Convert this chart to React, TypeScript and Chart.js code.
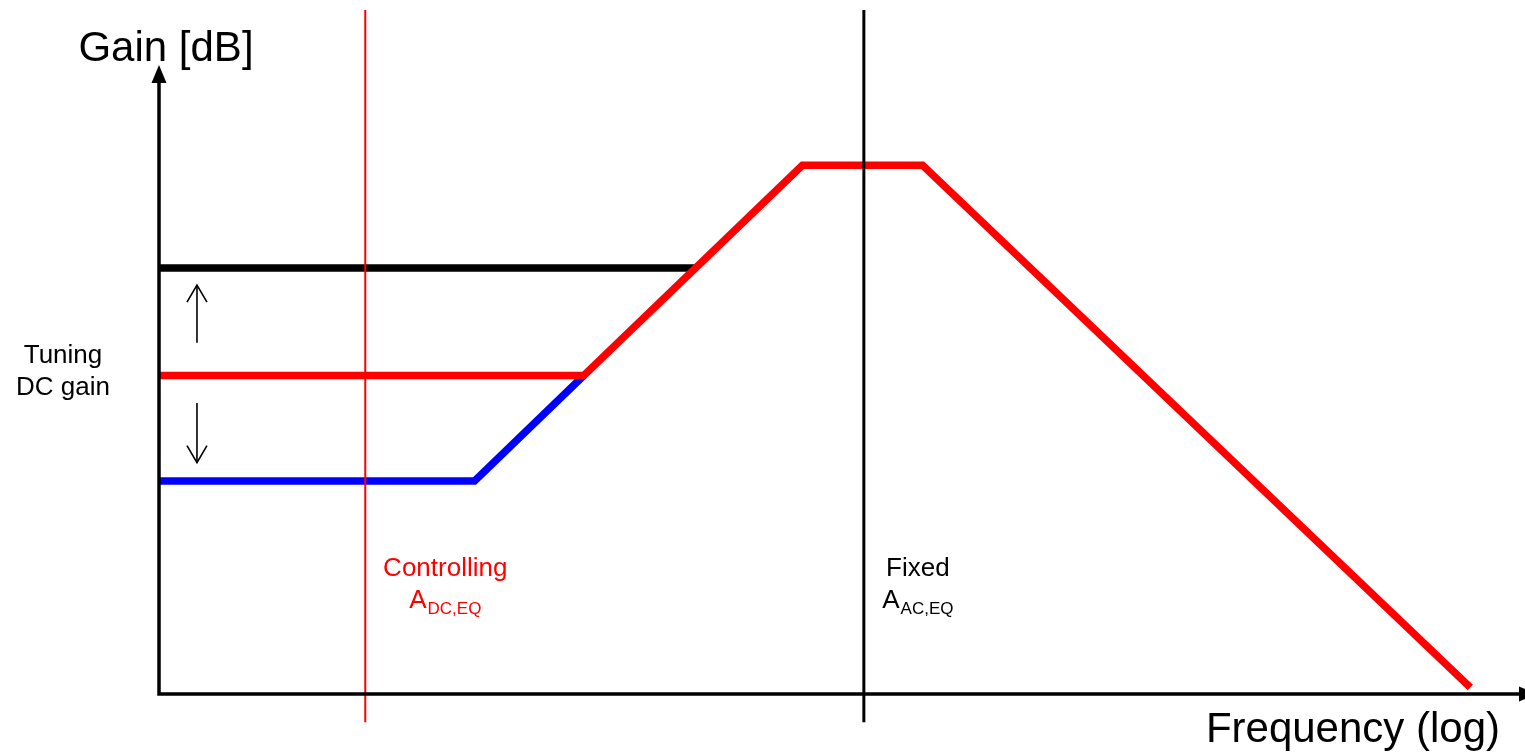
import React, { useEffect, useRef } from "react";
import { Chart, registerables } from "chart.js";

Chart.register(...registerables);

// Frequency in decades (log axis, arbitrary origin), gain in dB
const freqRange = [0, 10];
const gainRange = [0, 96];

const blueFreq = [0, 2.31, 3.11];
const blueGain = [32.5, 32.5, 48.6];

const redFreq = [0, 3.11, 4.71, 5.59, 9.6];
const redGain = [48.6, 48.6, 80.7, 80.7, 1.0];

const blackFreq = [0, 3.93];
const blackGain = [65, 65];

const controlFreq = 1.51;
const fixedFreq = 5.16;
const markerGainSpan = [-4.3, 104.4];

const tuneFreq = 0.278;
const tuneUpGain = [53.6, 62.4];
const tuneDownGain = [44.4, 35.3];

const yTitle = "Gain [dB]";
const xTitle = "Frequency (log)";
const tuneLabel = ["Tuning", "DC gain"];
const controlLabel = ["Controlling", "A", "DC,EQ"];
const fixedLabel = ["Fixed", "A", "AC,EQ"];

const FONT = '"Liberation Sans", Arial, Helvetica, sans-serif';

const pts = (xs: number[], ys: number[]) => xs.map((x, i) => ({ x, y: ys[i] }));

function drawSubLabel(ctx: CanvasRenderingContext2D, lines: string[], cx: number, base1: number, color: string) {
  ctx.fillStyle = color;
  ctx.textBaseline = "alphabetic";
  ctx.textAlign = "center";
  ctx.font = `26px ${FONT}`;
  ctx.fillText(lines[0], cx, base1);
  ctx.textAlign = "left";
  const mainW = ctx.measureText(lines[1]).width;
  ctx.font = `17px ${FONT}`;
  const subW = ctx.measureText(lines[2]).width;
  const total = mainW + 1 + subW;
  const left = cx - total / 2;
  ctx.font = `26px ${FONT}`;
  ctx.fillText(lines[1], left, base1 + 32);
  ctx.font = `17px ${FONT}`;
  ctx.fillText(lines[2], left + mainW + 1, base1 + 38);
}

const decor = {
  id: "decor",
  afterDatasetsDraw(chart: any) {
    const ctx: CanvasRenderingContext2D = chart.ctx;
    const xs = chart.scales.x;
    const ys = chart.scales.y;
    const ox = xs.getPixelForValue(freqRange[0]);
    const oy = ys.getPixelForValue(gainRange[0]);
    const top = chart.chartArea.top;
    const right = chart.chartArea.right;
    ctx.save();
    // axes
    ctx.strokeStyle = "#000";
    ctx.lineWidth = 3.5;
    ctx.lineJoin = "miter";
    ctx.lineCap = "butt";
    ctx.beginPath();
    ctx.moveTo(ox, top + 16);
    ctx.lineTo(ox, oy);
    ctx.lineTo(right - 6, oy);
    ctx.stroke();
    ctx.fillStyle = "#000";
    ctx.beginPath();
    ctx.moveTo(ox, top);
    ctx.lineTo(ox - 7.5, top + 18);
    ctx.lineTo(ox + 7.5, top + 18);
    ctx.closePath();
    ctx.fill();
    ctx.beginPath();
    ctx.moveTo(right + 12, oy);
    ctx.lineTo(right - 6, oy - 7.5);
    ctx.lineTo(right - 6, oy + 7.5);
    ctx.closePath();
    ctx.fill();

    // tuning arrow heads
    ctx.lineWidth = 1.6;
    const ax = xs.getPixelForValue(tuneFreq);
    const upTip = ys.getPixelForValue(tuneUpGain[1]);
    ctx.beginPath();
    ctx.moveTo(ax - 10, upTip + 17);
    ctx.lineTo(ax, upTip);
    ctx.lineTo(ax + 10, upTip + 17);
    ctx.stroke();
    const dnTip = ys.getPixelForValue(tuneDownGain[1]);
    ctx.beginPath();
    ctx.moveTo(ax - 10, dnTip - 17);
    ctx.lineTo(ax, dnTip);
    ctx.lineTo(ax + 10, dnTip - 17);
    ctx.stroke();

    // titles
    ctx.fillStyle = "#000";
    ctx.textBaseline = "alphabetic";
    ctx.font = `42px ${FONT}`;
    ctx.textAlign = "center";
    ctx.fillText(yTitle, ox + 7, top - 4);
    ctx.textAlign = "right";
    ctx.fillText(xTitle, right - 25, oy + 48);

    // tuning label
    ctx.font = `26px ${FONT}`;
    ctx.textAlign = "center";
    ctx.fillText(tuneLabel[0], 63, 363);
    ctx.fillText(tuneLabel[1], 63, 395);

    // marker labels
    drawSubLabel(ctx, controlLabel, xs.getPixelForValue(controlFreq) + 80, 576, "#ff0000");
    drawSubLabel(ctx, fixedLabel, xs.getPixelForValue(fixedFreq) + 54, 576, "#000000");
    ctx.restore();
  },
};

export default function App() {
  const ref = useRef<HTMLCanvasElement>(null);
  useEffect(() => {
    if (!ref.current) return;
    const common = { pointRadius: 0, pointHoverRadius: 0, showLine: true, fill: false, tension: 0, clip: false as any, borderCapStyle: "butt" as const };
    const chart = new Chart(ref.current, {
      type: "scatter",
      data: {
        datasets: [
          { ...common, label: "fixed", data: pts([fixedFreq, fixedFreq], markerGainSpan), borderColor: "#000000", borderWidth: 3, order: 0 },
          { ...common, label: "control", data: pts([controlFreq, controlFreq], markerGainSpan), borderColor: "#ff0000", borderWidth: 2, order: 1 },
          { ...common, label: "red", data: pts(redFreq, redGain), borderColor: "#ff0000", borderWidth: 7.5, order: 2 },
          { ...common, label: "blue", data: pts(blueFreq, blueGain), borderColor: "#0000ff", borderWidth: 7.5, order: 3 },
          { ...common, label: "black", data: pts(blackFreq, blackGain), borderColor: "#000000", borderWidth: 7.5, order: 4 },
          { ...common, label: "up", data: pts([tuneFreq, tuneFreq], tuneUpGain), borderColor: "#000000", borderWidth: 1.6, order: 5 },
          { ...common, label: "down", data: pts([tuneFreq, tuneFreq], tuneDownGain), borderColor: "#000000", borderWidth: 1.6, order: 6 },
        ],
      },
      options: {
        responsive: false,
        maintainAspectRatio: false,
        animation: false,
        events: [],
        layout: { padding: { left: 159, right: 0, top: 65, bottom: 61 } },
        plugins: { legend: { display: false }, tooltip: { enabled: false }, title: { display: false } },
        scales: {
          x: { type: "linear", min: freqRange[0], max: freqRange[1], display: false },
          y: { type: "linear", min: gainRange[0], max: gainRange[1], display: false },
        },
      },
      plugins: [decor],
    });
    return () => chart.destroy();
  }, []);
  return (
    <div style={{ position: "fixed", left: 0, top: 0, width: 1525, height: 755, background: "#fff" }}>
      <canvas ref={ref} width={1525} height={755} style={{ display: "block" }} />
    </div>
  );
}
